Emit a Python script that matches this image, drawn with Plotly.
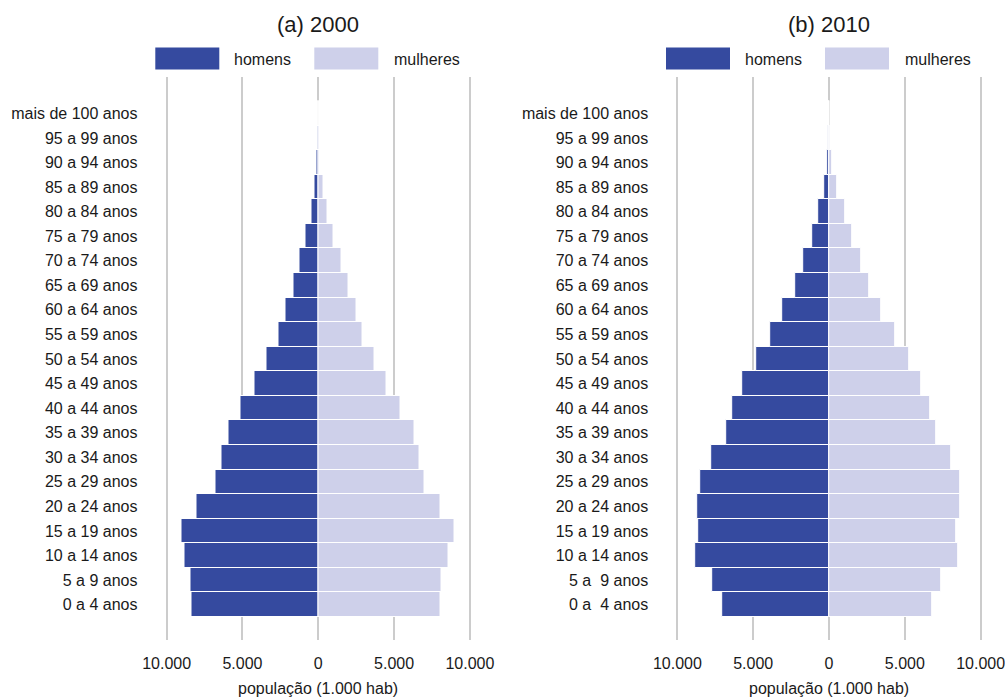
import plotly.graph_objects as go

# Age groups (bottom to top) and population in thousands
faixas_2000 = ["0 a 4 anos", "5 a 9 anos", "10 a 14 anos", "15 a 19 anos", "20 a 24 anos",
               "25 a 29 anos", "30 a 34 anos", "35 a 39 anos", "40 a 44 anos", "45 a 49 anos",
               "50 a 54 anos", "55 a 59 anos", "60 a 64 anos", "65 a 69 anos", "70 a 74 anos",
               "75 a 79 anos", "80 a 84 anos", "85 a 89 anos", "90 a 94 anos", "95 a 99 anos",
               "mais de 100 anos"]
faixas_2010 = ["0 a\u00a0 4 anos", "5 a\u00a0 9 anos"] + faixas_2000[2:]

homens_2000 = [8330, 8430, 8800, 9040, 8060, 6810, 6390, 5950, 5120, 4220, 3420,
               2610, 2170, 1650, 1270, 820, 440, 240, 100, 40, 12]
mulheres_2000 = [8050, 8140, 8600, 8950, 8040, 7000, 6660, 6320, 5410, 4520, 3690,
                 2900, 2510, 2000, 1520, 970, 590, 330, 110, 50, 25]

homens_2010 = [7030, 7680, 8800, 8640, 8680, 8500, 7770, 6800, 6370, 5730, 4820,
               3890, 3060, 2240, 1670, 1100, 680, 290, 120, 35, 10]
mulheres_2010 = [6800, 7370, 8490, 8420, 8640, 8620, 8050, 7060, 6650, 6100, 5310,
                 4350, 3450, 2680, 2120, 1530, 1060, 540, 210, 65, 18]

tick_vals = [-10000, -5000, 0, 5000, 10000]
tick_text = ["10.000", "5.000", "0", "5.000", "10.000"]

COR_H = "#354A9F"
COR_M = "#CED0EA"
TXT = "#1a1a1a"
FONT = "Liberation Sans, Arial, sans-serif"

W, H = 1005, 699


def px(x):
    return x / W


def py(y):
    return 1 - y / H


fig = go.Figure()

paineis = [
    ("x", "y", faixas_2000, homens_2000, mulheres_2000, "(a) 2000", 318.3),
    ("x2", "y2", faixas_2010, homens_2010, mulheres_2010, "(b) 2010", 829.0),
]

shapes = []
annotations = []
for xa, ya, faixas, hom, mul, titulo, cx in paineis:
    fig.add_trace(go.Bar(y=faixas, x=[-v for v in hom], orientation="h",
                         marker=dict(color=COR_H, line=dict(color="white", width=1)),
                         xaxis=xa, yaxis=ya, showlegend=False, name="homens"))
    fig.add_trace(go.Bar(y=faixas, x=mul, orientation="h",
                         marker=dict(color=COR_M, line=dict(color="white", width=1)),
                         xaxis=xa, yaxis=ya, showlegend=False, name="mulheres"))

    # panel title
    annotations.append(dict(text=titulo, x=px(cx), y=py(25), xref="paper", yref="paper",
                            showarrow=False, xanchor="center", yanchor="middle",
                            font=dict(size=22, color=TXT, family=FONT)))
    # legend swatches and labels
    for x0, x1, cor, rot, tx in [(-163, -99, COR_H, "homens", -86),
                                 (-4, 60, COR_M, "mulheres", 74)]:
        shapes.append(dict(type="rect", xref="paper", yref="paper",
                           x0=px(cx + x0), x1=px(cx + x1), y0=py(69.5), y1=py(47.5),
                           fillcolor=cor, line=dict(width=0)))
        annotations.append(dict(text=rot, x=px(cx + tx), y=py(59.5), xref="paper", yref="paper",
                                showarrow=False, xanchor="left", yanchor="middle",
                                font=dict(size=16, color=TXT, family=FONT)))
    # x-axis title
    annotations.append(dict(text="população (1.000 hab)", x=px(cx), y=py(688),
                            xref="paper", yref="paper", showarrow=False,
                            xanchor="center", yanchor="middle",
                            font=dict(size=16, color=TXT, family=FONT)))

xaxis_common = dict(range=[-11000, 11000], tickvals=tick_vals, ticktext=tick_text,
                    showgrid=True, gridcolor="#cccccc", gridwidth=2, zeroline=False,
                    showline=False, ticks="", ticklabelstandoff=12, automargin=False,
                    ticklabeloverflow="allow",
                    tickfont=dict(size=16, color=TXT, family=FONT), fixedrange=True)
yaxis_common = dict(range=[-1.44, 21.48], showgrid=False, zeroline=False, showline=False,
                    ticks="", ticklabelstandoff=13, automargin=False,
                    tickfont=dict(size=16, color=TXT, family=FONT))

fig.update_layout(
    width=W, height=H,
    margin=dict(l=0, r=0, t=0, b=0, pad=0, autoexpand=False),
    paper_bgcolor="white", plot_bgcolor="white",
    barmode="overlay", bargap=0,
    xaxis=dict(domain=[px(151.5), px(485.1)], anchor="y", **xaxis_common),
    xaxis2=dict(domain=[px(662.2), px(995.8)], anchor="y2", **xaxis_common),
    yaxis=dict(domain=[py(640), py(77)], anchor="x", categoryorder="array",
               categoryarray=faixas_2000, **yaxis_common),
    yaxis2=dict(domain=[py(640), py(77)], anchor="x2", categoryorder="array",
                categoryarray=faixas_2010, **yaxis_common),
    shapes=shapes,
    annotations=annotations,
    font=dict(family=FONT, color=TXT),
)

fig.write_html("out.html")
